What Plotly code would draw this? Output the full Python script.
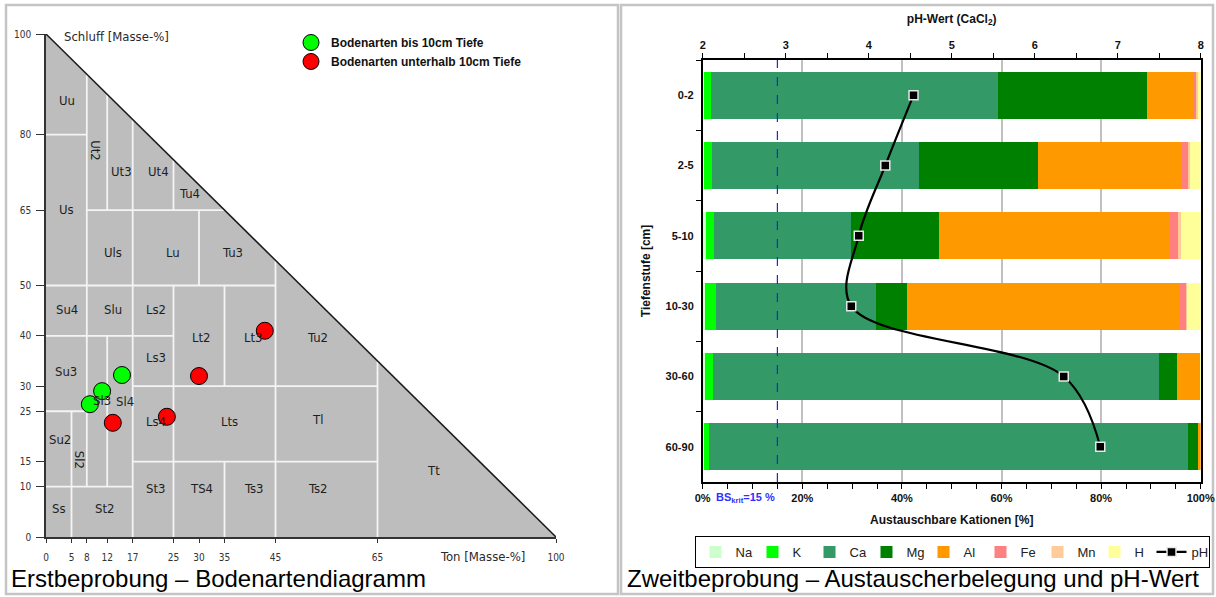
import plotly.graph_objects as go

# ---------------- Left panel: Bodenartendiagramm (KA5) ----------------
ton_ticks = [0, 5, 8, 12, 17, 25, 30, 35, 45, 65, 100]
schluff_ticks = [0, 10, 15, 25, 30, 40, 50, 65, 80, 100]

# class boundaries (Ton, Schluff) segments
boundary_segments = [
    [(0, 80), (8, 80)], [(8, 65), (35, 65)], [(0, 50), (45, 50)], [(0, 40), (25, 40)],
    [(17, 30), (65, 30)], [(0, 25), (8, 25)], [(17, 15), (65, 15)], [(0, 10), (17, 10)],
    [(5, 0), (5, 25)], [(8, 10), (8, 92)], [(12, 10), (12, 40)], [(12, 65), (12, 88)],
    [(17, 0), (17, 83)], [(25, 0), (25, 50)], [(25, 65), (25, 75)], [(30, 50), (30, 65)],
    [(35, 0), (35, 15)], [(35, 30), (35, 50)], [(45, 0), (45, 55)], [(65, 0), (65, 35)],
]

class_names = ["Uu", "Ut2", "Ut3", "Ut4", "Tu4", "Us", "Uls", "Lu", "Tu3", "Su4", "Slu", "Ls2",
               "Lt2", "Lt3", "Tu2", "Ls3", "Su3", "Sl3", "Sl4", "Ls4", "Lts", "Tl", "Su2", "Sl2",
               "Tt", "St3", "TS4", "Ts3", "Ts2", "Ss", "St2"]
class_ton = [4.1, 9.8, 14.9, 22.0, 28.2, 4.1, 13.1, 24.9, 36.5, 4.1, 13.1, 21.6,
             30.4, 40.6, 53.3, 21.6, 3.9, 11.0, 15.5, 21.6, 35.9, 53.3, 2.7, 6.7,
             75.9, 21.4, 30.4, 40.8, 53.3, 2.5, 11.4]
class_schluff = [86.7, 76.7, 72.6, 72.6, 68.2, 65.2, 56.5, 56.5, 56.5, 45.3, 45.3, 45.3,
                 39.6, 39.6, 39.6, 35.6, 33.0, 27.2, 27.0, 23.0, 23.0, 23.3, 19.3, 15.3,
                 13.3, 9.7, 9.7, 9.7, 9.7, 5.6, 5.6]
class_rotated = ["Ut2", "Sl2"]

green_ton = [8.6, 11.0, 14.9]
green_schluff = [26.4, 29.0, 32.2]
red_ton = [13.1, 23.7, 30.0, 42.9]
red_schluff = [22.7, 23.9, 32.0, 41.0]

# ---------------- Right panel: Austauscherbelegung + pH ----------------
depths = ["0-2", "2-5", "5-10", "10-30", "30-60", "60-90"]
na = [0.3, 0.3, 0.6, 0.5, 0.5, 0.2]
k = [1.4, 1.6, 1.6, 2.2, 1.6, 1.0]
ca = [57.5, 41.5, 27.6, 32.1, 89.6, 96.2]
mg = [30.0, 23.9, 17.6, 6.2, 3.5, 2.1]
al = [9.3, 28.9, 46.4, 54.7, 4.7, 0.5]
fe = [0.5, 1.3, 1.6, 1.4, 0.0, 0.0]
mn = [0.4, 0.4, 0.6, 0.1, 0.0, 0.0]
h = [0.6, 2.1, 4.0, 2.8, 0.1, 0.0]
ph = [4.54, 4.20, 3.88, 3.79, 6.35, 6.79]
bs_krit = 15
pct_ticks = [0, 20, 40, 60, 80, 100]
ph_ticks = [2, 3, 4, 5, 6, 7, 8]

cation_series = [("Na", na, "#ccffcc"), ("K", k, "#00ff00"), ("Ca", ca, "#339966"),
                 ("Mg", mg, "#008000"), ("Al", al, "#ff9900"), ("Fe", fe, "#ff8080"),
                 ("Mn", mn, "#ffcc99"), ("H", h, "#ffff99")]

W, H = 1216, 597
ARIAL = "Liberation Sans, Arial, sans-serif"
NARROW = "Liberation Sans Narrow, DejaVu Sans Condensed, Arial Narrow, sans-serif"


def px(xp):
    return xp / W


def py(yp):
    return 1 - yp / H


fig = go.Figure()

# triangle background
fig.add_trace(go.Scatter(x=[0, 100, 0, 0], y=[0, 0, 100, 0], xaxis="x3", yaxis="y3",
                         mode="lines", fill="toself", fillcolor="#bdbdbd",
                         line=dict(width=0, color="#bdbdbd"), hoverinfo="skip", showlegend=False))
bx, by = [], []
for seg in boundary_segments:
    for (a, b) in seg:
        bx.append(a)
        by.append(b)
    bx.append(None)
    by.append(None)
fig.add_trace(go.Scatter(x=bx, y=by, xaxis="x3", yaxis="y3", mode="lines",
                         line=dict(color="#f4f4f4", width=1.8), hoverinfo="skip", showlegend=False))
fig.add_trace(go.Scatter(x=[0, 100], y=[100, 0], xaxis="x3", yaxis="y3", mode="lines",
                         line=dict(color="#1a1a1a", width=1.5), hoverinfo="skip", showlegend=False))

annotations = []
for name, tx, sy in zip(class_names, class_ton, class_schluff):
    annotations.append(dict(x=tx, y=sy, xref="x3", yref="y3", text=name, showarrow=False,
                            textangle=90 if name in class_rotated else 0,
                            font=dict(family=NARROW, size=13, color="#1e1e1e")))

fig.add_trace(go.Scatter(x=green_ton, y=green_schluff, xaxis="x3", yaxis="y3", mode="markers",
                         name="Bodenarten bis 10cm Tiefe", legend="legend2",
                         marker=dict(color="#00ff00", size=17, line=dict(color="black", width=1))))
fig.add_trace(go.Scatter(x=red_ton, y=red_schluff, xaxis="x3", yaxis="y3", mode="markers",
                         name="Bodenarten unterhalb 10cm Tiefe", legend="legend2",
                         marker=dict(color="#ff0000", size=17, line=dict(color="black", width=1))))

# bars
for name, vals, col in cation_series:
    fig.add_trace(go.Bar(y=depths, x=vals, name=name, orientation="h", xaxis="x", yaxis="y",
                         marker=dict(color=col, line=dict(width=0)), legend="legend"))
fig.add_trace(go.Scatter(x=ph, y=depths, xaxis="x2", yaxis="y", name="pH", mode="lines+markers",
                         line=dict(color="black", width=2.2, shape="spline", smoothing=1.0),
                         marker=dict(symbol="square", size=9, color="black",
                                     line=dict(color="#e8e8e8", width=1.5)),
                         legend="legend"))

# labels & captions
annotations += [
    dict(x=px(62), y=py(36), xref="paper", yref="paper", xanchor="left", yanchor="middle",
         text="Schluff [Masse-%]", showarrow=False, font=dict(family=NARROW, size=13, color="#2a2a2a")),
    dict(x=px(482), y=py(556), xref="paper", yref="paper", xanchor="center", yanchor="middle",
         text="Ton [Masse-%]", showarrow=False, font=dict(family=NARROW, size=13, color="#2a2a2a")),
    dict(x=px(9), y=py(578), xref="paper", yref="paper", xanchor="left", yanchor="middle",
         text="Erstbeprobung – Bodenartendiagramm", showarrow=False,
         font=dict(family=ARIAL, size=24, color="black")),
    dict(x=px(625), y=py(578), xref="paper", yref="paper", xanchor="left", yanchor="middle",
         text="Zweitbeprobung – Austauscherbelegung und pH-Wert", showarrow=False,
         font=dict(family=ARIAL, size=24, color="black")),
    dict(x=bs_krit, y=py(498), xref="x", yref="paper", xanchor="right", yanchor="middle",
         text="<b>BS<sub>krit</sub>=15 %</b>", showarrow=False,
         font=dict(family=ARIAL, size=11, color="#2f2fff")),
]

shapes = [
    dict(type="rect", xref="paper", yref="paper", x0=px(6), x1=px(618), y0=py(594), y1=py(5),
         line=dict(color="#c4c4c4", width=2.5), layer="below"),
    dict(type="rect", xref="paper", yref="paper", x0=px(621), x1=px(1213), y0=py(594), y1=py(5),
         line=dict(color="#c4c4c4", width=2.5), layer="below"),
    dict(type="line", xref="x", yref="y domain", x0=bs_krit, x1=bs_krit, y0=0, y1=1,
         line=dict(color="#2020ff", width=1.2, dash="dash"), layer="above"),
]

bold11 = dict(family=ARIAL, size=11, color="#111", weight="bold")

fig.update_layout(
    width=W, height=H, margin=dict(l=0, r=0, t=0, b=0, autoexpand=False),
    paper_bgcolor="white", plot_bgcolor="white",
    barmode="stack", bargap=0.33,
    annotations=annotations, shapes=shapes,
    xaxis=dict(domain=[px(702.7), px(1200.7)], range=[0, 100], anchor="y", automargin=False,
               tickvals=pct_ticks, ticktext=[f"{v}%" for v in pct_ticks],
               ticks="outside", ticklen=5, tickcolor="black", tickfont=bold11,
               minor=dict(dtick=5, ticks="outside", ticklen=5, tickcolor="black", showgrid=False),
               showgrid=True, gridcolor="#c0c0c0", gridwidth=1.5,
               showline=True, linecolor="black", linewidth=1.5, mirror=False, zeroline=False,
               title=dict(text="<b>Austauschbare Kationen [%]</b>", standoff=13,
                          font=dict(family=ARIAL, size=12, color="#111"))),
    xaxis2=dict(overlaying="x", side="top", anchor="y", range=[2, 8], tickvals=ph_ticks,
                automargin=False,
                ticks="outside", ticklen=5, tickcolor="black", tickfont=bold11,
                minor=dict(dtick=0.5, ticks="outside", ticklen=5, tickcolor="black", showgrid=False),
                showgrid=False, showline=True, linecolor="black", linewidth=1.5, zeroline=False,
                title=dict(text="<b>pH-Wert (CaCl<sub>2</sub>)</b>", standoff=13,
                           font=dict(family=ARIAL, size=12, color="#111"))),
    yaxis=dict(domain=[py(482), py(60)], anchor="x", type="category", automargin=False,
               categoryorder="array", categoryarray=depths, range=[5.5, -0.5],
               ticks="outside", tickson="boundaries", ticklen=5, tickcolor="black",
               ticklabelstandoff=5,
               tickfont=bold11, showline=True, linecolor="black", linewidth=1.5, mirror=True,
               showgrid=False, zeroline=False,
               title=dict(text="<b>Tiefenstufe [cm]</b>", standoff=12,
                          font=dict(family=ARIAL, size=12, color="#111"))),
    xaxis3=dict(domain=[px(46), px(556)], range=[0, 100], anchor="y3", tickvals=ton_ticks,
                automargin=False, ticklabelstandoff=6,
                ticks="outside", ticklen=4, tickcolor="#333", showline=True, linecolor="#333",
                linewidth=1.5, showgrid=False, zeroline=False,
                tickfont=dict(family=NARROW, size=10, color="#333")),
    yaxis3=dict(domain=[py(537), py(34)], range=[0, 100], anchor="x3", tickvals=schluff_ticks,
                automargin=False, ticklabelstandoff=3,
                ticks="outside", ticklen=8, tickcolor="#333", showline=True, linecolor="#333",
                linewidth=1.5, showgrid=False, zeroline=False,
                tickfont=dict(family=NARROW, size=10, color="#333")),
    legend=dict(orientation="h", x=px(952), xanchor="center", y=py(536), yanchor="top",
                bordercolor="black", borderwidth=1, bgcolor="white",
                entrywidth=12, entrywidthmode="pixels", itemwidth=30,
                font=dict(family=ARIAL, size=13, color="#222"), traceorder="normal"),
    legend2=dict(x=px(291), xanchor="left", y=py(28), yanchor="top", bgcolor="rgba(0,0,0,0)",
                 font=dict(family=ARIAL, size=12, color="#111", weight="bold"),
                 traceorder="normal"),
)

fig.write_html("out.html", config={"displayModeBar": False},
               post_script="document.body.style.margin='0';")
